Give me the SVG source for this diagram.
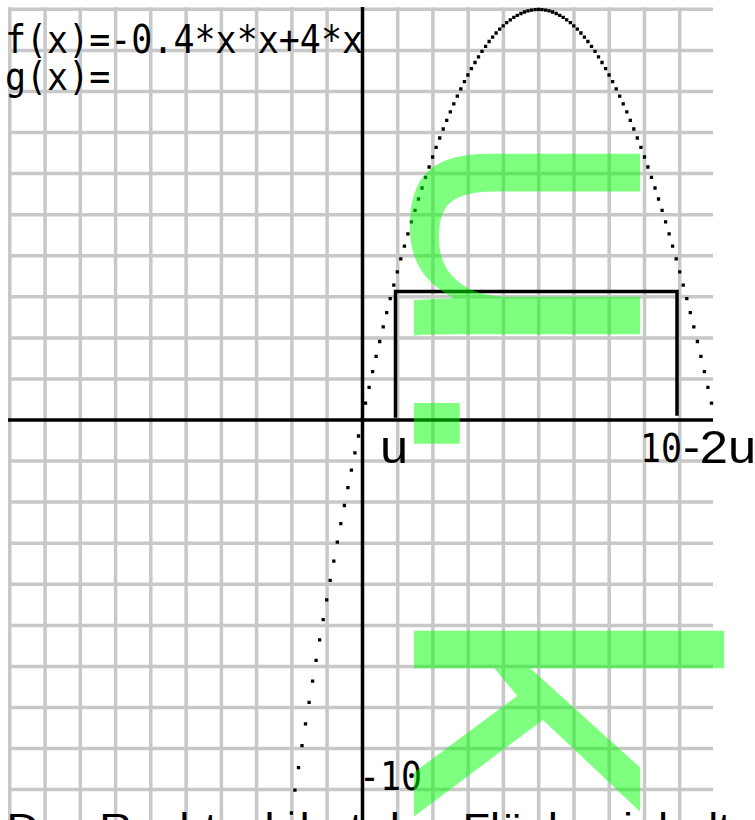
<svg xmlns="http://www.w3.org/2000/svg" width="755" height="820" viewBox="0 0 755 820">
<style>
.grid{stroke:#c8c8c8;stroke-width:3.5;fill:none}
.axis{stroke:#000;stroke-width:3.5;fill:none}
.curve{stroke:#000;stroke-width:3.3;stroke-linecap:square;fill:none}
.rect{stroke:#000;stroke-width:3.5;stroke-linecap:square;fill:none}
.mono{font-family:"DejaVu Sans Mono","Liberation Mono",monospace;font-size:35px;fill:#000}
.sans{font-family:"Liberation Sans",Arial,sans-serif;fill:#000}
</style>
<rect width="755" height="820" fill="#fff"/>
<g id="grid">
<path class="grid" d="M8,9.3H713M8,50.4H713M8,91.4H713M8,132.5H713M8,173.6H713M8,214.7H713M8,255.7H713M8,296.8H713M8,337.9H713M8,378.9H713M8,461.1H713M8,502.1H713M8,543.2H713M8,584.3H713M8,625.4H713M8,666.4H713M8,707.5H713M8,748.6H713M8,789.6H713"/>
<path class="grid" d="M9.8,7.5V820M45.1,7.5V820M80.3,7.5V820M115.6,7.5V820M150.8,7.5V820M186.1,7.5V820M221.4,7.5V820M256.6,7.5V820M291.9,7.5V820M327.1,7.5V820M397.7,7.5V820M432.9,7.5V820M468.2,7.5V820M503.4,7.5V820M538.7,7.5V820M574,7.5V820M609.2,7.5V820M644.5,7.5V820M679.7,7.5V820"/>
</g>
<g id="axes">
<path class="axis" d="M8,420H713M362.5,7V820"/>
</g>
<g id="curve-f">
<path class="curve" d="M291.4,813h.01M294.9,790.2h.01M298.5,767.7h.01M302,745.6h.01M305.5,723.8h.01M309.1,702.3h.01M312.6,681.1h.01M316.1,660.3h.01M319.6,639.8h.01M323.2,619.6h.01M326.7,599.8h.01M330.2,580.3h.01M333.8,561.1h.01M337.3,542.2h.01M340.8,523.7h.01M344.4,505.5h.01M347.9,487.6h.01M351.4,470.1h.01M354.9,452.9h.01M358.5,436h.01M362,419.4h.01M365.5,403.2h.01M369.1,387.3h.01M372.6,371.7h.01M376.1,356.4h.01M379.7,341.5h.01M383.2,326.9h.01M386.7,312.6h.01M390.2,298.7h.01M393.8,285.1h.01M397.3,271.8h.01M400.8,258.8h.01M404.4,246.2h.01M407.9,233.9h.01M411.4,221.9h.01M415,210.3h.01M418.5,199h.01M422,188h.01M425.5,177.3h.01M429.1,167h.01M432.6,157h.01M436.1,147.3h.01M439.7,138h.01M443.2,129h.01M446.7,120.3h.01M450.3,111.9h.01M453.8,103.9h.01M457.3,96.2h.01M460.8,88.8h.01M464.4,81.7h.01M467.9,75h.01M471.4,68.6h.01M475,62.5h.01M478.5,56.8h.01M482,51.4h.01M485.6,46.3h.01M489.1,41.5h.01M492.6,37.1h.01M496.1,33h.01M499.7,29.2h.01M503.2,25.8h.01M506.7,22.7h.01M510.3,19.9h.01M513.8,17.4h.01M517.3,15.3h.01M520.9,13.5h.01M524.4,12h.01M527.9,10.9h.01M531.4,10.1h.01M535,9.6h.01M538.5,9.4h.01M542,9.6h.01M545.6,10.1h.01M549.1,10.9h.01M552.6,12h.01M556.2,13.5h.01M559.7,15.3h.01M563.2,17.4h.01M566.7,19.9h.01M570.3,22.7h.01M573.8,25.8h.01M577.3,29.2h.01M580.9,33h.01M584.4,37.1h.01M587.9,41.5h.01M591.5,46.3h.01M595,51.4h.01M598.5,56.8h.01M602,62.5h.01M605.6,68.6h.01M609.1,75h.01M612.6,81.7h.01M616.2,88.8h.01M619.7,96.2h.01M623.2,103.9h.01M626.8,111.9h.01M630.3,120.3h.01M633.8,129h.01M637.3,138h.01M640.9,147.3h.01M644.4,157h.01M647.9,167h.01M651.5,177.3h.01M655,188h.01M658.5,199h.01M662.1,210.3h.01M665.6,221.9h.01M669.1,233.9h.01M672.6,246.2h.01M676.2,258.8h.01M679.7,271.8h.01M683.2,285.1h.01M686.8,298.7h.01M690.3,312.6h.01M693.8,326.9h.01M697.4,341.5h.01M700.9,356.4h.01M704.4,371.7h.01M707.9,387.3h.01M711.5,403.2h.01"/>
</g>
<g id="rectangle">
<path class="rect" d="M395.5,416V291.5H677V414"/>
</g>
<g id="formula" transform="scale(1,1.12)">
<text class="mono" x="5" y="47.3">f(x)=-0.4*x*x+4*x</text>
<text class="mono" x="5" y="80.4">g(x)=</text>
<text class="mono" x="359" y="705.4">-10</text>
<text class="mono" x="640" y="412.5">10</text>
</g>
<g id="labels">
<text class="sans" font-size="46" transform="translate(380,463) scale(1.1,1)">u</text>
<text class="sans" font-size="46" transform="translate(683,463) scale(1.1,1)">-2u</text>
<text class="sans" font-size="41" transform="translate(6.5,842) scale(1.1,1)">Das Rechteck hat den Flächeninhalt</text>
</g>
<g id="watermark">
<text transform="rotate(90)" x="126" y="-414" font-family="Liberation Sans, Arial, sans-serif" font-size="428" fill="#00ff00" fill-opacity="0.5">u. k</text>
</g>
</svg>
